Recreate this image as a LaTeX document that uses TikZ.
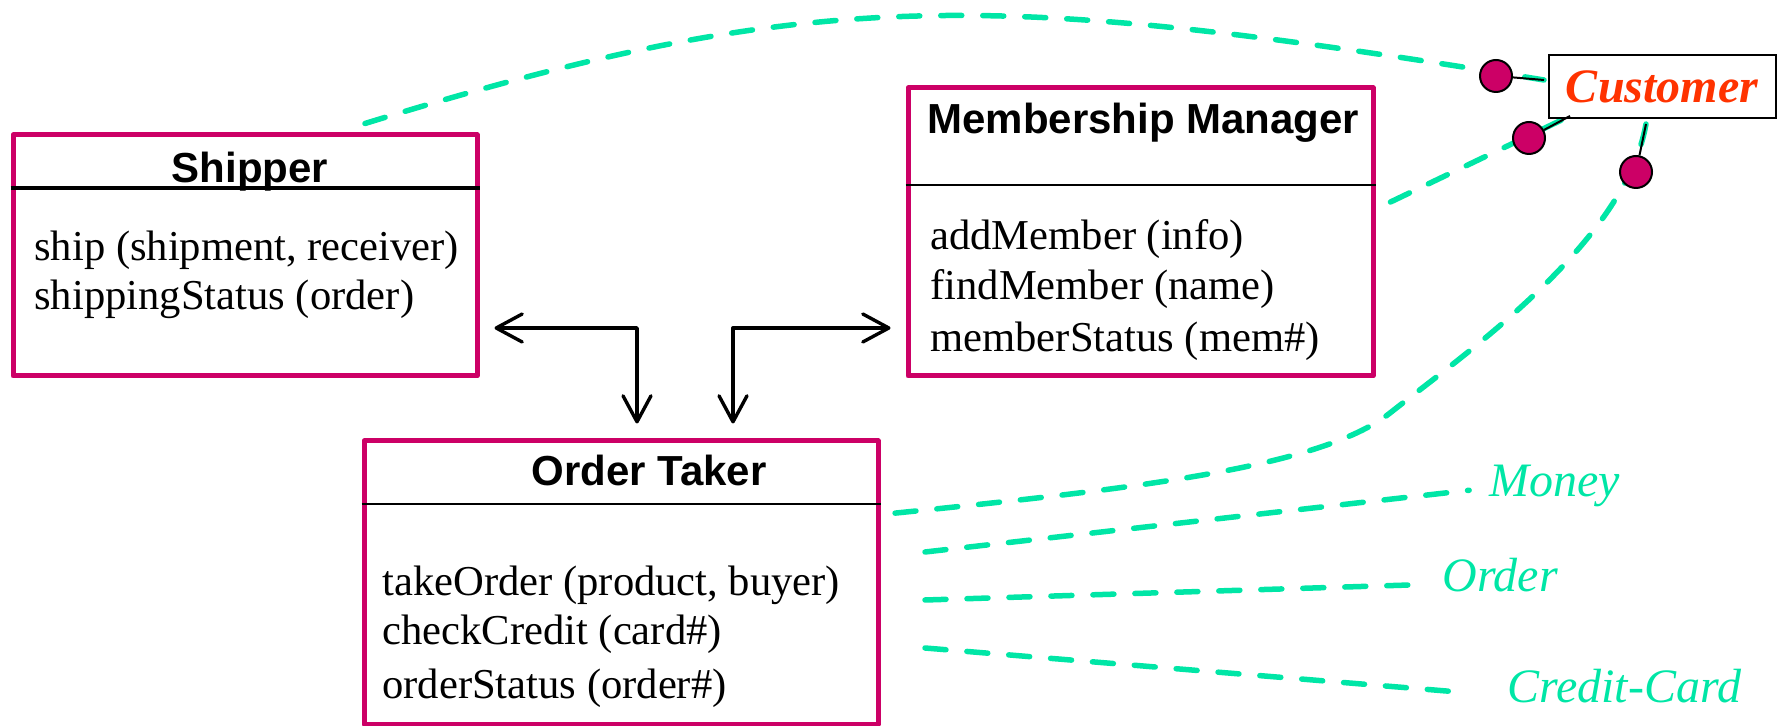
\documentclass[tikz,border=0pt]{standalone}
\usepackage{fontspec}
\setmainfont{Liberation Serif}
\setsansfont{Liberation Sans}
\usetikzlibrary{arrows.meta,fit}
\definecolor{umlpink}{RGB}{204,0,102}
\definecolor{flowgreen}{RGB}{0,230,166}
\definecolor{custred}{RGB}{255,51,0}
\begin{document}
\begin{tikzpicture}[x=0.5pt,y=-0.5pt,
    class box/.style={draw=umlpink,line width=2.5pt,fill=white,inner sep=0pt,line join=round},
    class title/.style={font=\sffamily\bfseries\fontsize{21}{25}\selectfont,inner sep=0pt},
    method/.style={font=\fontsize{21.3}{25}\selectfont,inner sep=0pt,anchor=base west},
    call/.style={line width=1.7pt,line join=round,>={Straight Barb[round,length=13pt,width=14pt]},<->,shorten <=7.5pt,shorten >=7.5pt},
    green dash/.style={draw=flowgreen,line width=2.75pt,dash pattern=on 10.5pt off 10.5pt,line cap=round},
    green label/.style={text=flowgreen,font=\itshape\fontsize{24}{28}\selectfont,inner sep=0pt,anchor=base west},
    lolly/.style={circle,draw,fill=umlpink,line width=1pt,minimum size=16pt,inner sep=0pt}]
    \useasboundingbox (0,0) rectangle (1783,726);

    % classes
    \node[class box,fit={(13,135) (477,376)}] (shipper) {};
    \node[class box,fit={(908,88) (1373,376)}] (member) {};
    \node[class box,fit={(364,441) (878,724)}] (order) {};
    \draw[line width=2pt] (shipper.west |- 0,188) -- (shipper.east |- 0,188);
    \draw[line width=1pt] (member.west |- 0,185) -- (member.east |- 0,185);
    \draw[line width=0.8pt] (order.west |- 0,504) -- (order.east |- 0,504);

    \node[class title,anchor=base] (shipper title) at (250,183) {Shipper};
    \node[class title,anchor=base west] (member title) at (927,134) {Membership Manager};
    \node[class title,anchor=base west] (order title) at (531,486) {Order Taker};

    \node[method] (ship) at (34,261) {ship (shipment, receiver)};
    \node[method] (ship status) at (34,310) {shippingStatus (order)};
    \node[method] (add member) at (930,250) {addMember (info)};
    \node[method] (find member) at (930,300) {findMember (name)};
    \node[method] (member status) at (930,352) {memberStatus (mem\#)};
    \node[method] (take order) at (382,596) {takeOrder (product, buyer)};
    \node[method] (check credit) at (382,645) {checkCredit (card\#)};
    \node[method] (order status) at (382,698) {orderStatus (order\#)};

    % calls between the classes
    \draw[call] (shipper.east |- 0,328) -| (order.north -| 637,0);
    \draw[call] (order.north -| 733,0) |- (member.west |- 0,328);

    % interfaces of the customer
    \coordinate (a1) at (1544,80);
    \coordinate (a2) at (1570,116);
    \coordinate (a3) at (1646,124);
    \draw[green dash] ([xshift=60pt,yshift=4.5pt]shipper.north) .. controls (815,-15) and (990,-10) .. (a1);
    \draw[green dash] ([shift={(7.5pt,15pt)}]member.east) -- (a2);
    \draw[green dash] (a3) .. controls (1625,242) and (1470,350) .. (1390,413)
        .. controls (1320,468) and (1132,489) .. ([shift={(3pt,34.25pt)}]order.east);

    \node[draw,line width=1pt,fill=white,minimum width=113.5pt,minimum height=31.5pt,inner sep=0pt,
        text=custred,font=\bfseries\itshape\fontsize{24}{28}\selectfont] (customer) at (1662,86.5) {Customer};
    \node[lolly] (l1) at (1496,76) {};
    \node[lolly] (l2) at (1529,138) {};
    \node[lolly] (l3) at (1636,172) {};
    \draw[line width=1pt] (l1) -- (a1);
    \draw[line width=1pt] (l2) -- (a2);
    \draw[line width=1pt] (l3) -- (a3);

    % flows out of the order taker
    \node[green label] (money) at (1489,497) {Money};
    \node[green label] (order label) at (1442,592) {Order};
    \node[green label] (card) at (1507,703) {Credit-Card};
    \coordinate (money in) at (925,552);
    \coordinate (order in) at (925,600);
    \coordinate (card in) at (925,648);
    \draw[green dash,shorten >=10pt] (money in) -- ([yshift=4.5pt]money.base west);
    \draw[green dash,shorten >=16pt] (order in) -- ([yshift=4pt]order label.base west);
    \draw[green dash,shorten >=19pt] (card in) -- ([yshift=3.5pt]card.base west);
\end{tikzpicture}
\end{document}
